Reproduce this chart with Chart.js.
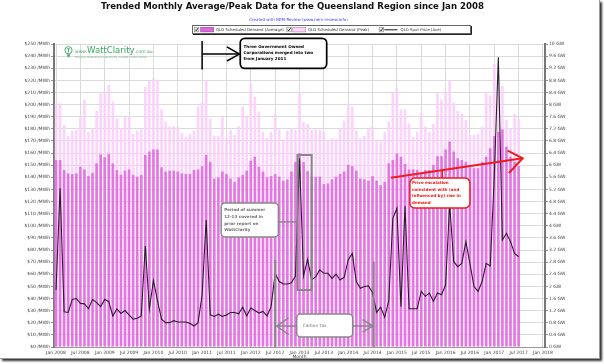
<!DOCTYPE html>
<html><head><meta charset="utf-8">
<script src="https://cdn.jsdelivr.net/npm/chart.js@4/dist/chart.umd.min.js"></script>
<style>
html,body{margin:0;padding:0;background:#fff;}
#frame{position:absolute;left:0;top:0;width:599px;height:358px;border-right:1px solid #999;border-bottom:1px solid #999;box-shadow:2px 2px 2px #333;background:#fff;}
#wrap{position:absolute;left:0;top:0;width:604px;height:364px;}
</style></head><body>
<div id="frame"></div>
<div id="wrap"><canvas id="c" width="604" height="364"></canvas></div>
<script>
const FONT = "'DejaVu Sans', Verdana, sans-serif";
const chartTitle = 'Trended Monthly Average/Peak Data for the Queensland Region since Jan 2008';
const chartSubtitle = 'Created with NEM-Review (www.nem-review.info)';
const seriesNames = ['QLD Scheduled Demand (Average)', 'QLD Scheduled Demand (Peak)', 'QLD Spot Price (Ave)'];

const monthNames = ['Jan','Feb','Mar','Apr','May','Jun','Jul','Aug','Sep','Oct','Nov','Dec'];
const categories = [];
for (let y = 2008; y <= 2018; y++) {
  for (let m = 0; m < 12; m++) {
    if (y === 2018 && m > 0) break;
    categories.push(monthNames[m] + ' ' + y);
  }
}
const xTickLabels = ['Jan 2008','Jul 2008','Jan 2009','Jul 2009','Jan 2010','Jul 2010','Jan 2011','Jul 2011',
  'Jan 2012','Jul 2012','Jan 2013','Jul 2013','Jan 2014','Jul 2014','Jan 2015','Jul 2015','Jan 2016','Jul 2016',
  'Jan 2017','Jul 2017','Jan 2018'];

// GW, Jan 2008 .. Jul 2017
const avgDemandGW = [
  6.17, 6.17, 5.84, 5.73, 5.71, 5.73, 5.95, 5.86, 5.64, 5.75, 6.06, 6.36,
  6.26, 6.37, 6.06, 5.84, 5.68, 5.82, 5.86, 5.68, 5.62, 5.68, 6.34, 6.45,
  6.52, 6.52, 5.93, 5.79, 5.82, 5.82, 5.79, 5.73, 5.71, 5.71, 5.84, 5.86,
  5.97, 6.34, 6.11, 5.56, 5.60, 5.79, 5.71, 5.56, 5.45, 5.60, 5.68, 5.82,
  6.15, 6.28, 5.95, 5.79, 5.60, 5.64, 5.71, 5.62, 5.49, 5.53, 5.79, 6.11,
  6.40, 6.10, 5.80, 5.62, 5.62, 5.62, 5.38, 5.40, 5.53, 5.62, 5.71, 5.79,
  6.01, 5.97, 5.82, 5.56, 5.53, 5.49, 5.64, 5.49, 5.34, 5.45, 6.06, 6.17,
  6.39, 6.28, 6.04, 5.86, 5.86, 5.84, 5.75, 5.84, 5.84, 6.01, 6.30, 6.30,
  6.52, 6.78, 6.45, 6.23, 6.17, 6.11, 5.93, 5.90, 5.90, 6.11, 6.28, 6.56,
  6.96, 7.10, 7.18, 6.61, 6.28, 6.11, 5.97
];
const peakDemandGW = [
  8.04, 8.04, 7.33, 6.96, 7.14, 7.16, 7.60, 8.17, 7.10, 7.21, 7.80, 8.37,
  8.42, 8.65, 8.10, 7.54, 7.21, 7.62, 7.62, 7.03, 7.14, 7.18, 8.59, 8.79,
  8.87, 8.81, 7.84, 7.43, 7.27, 7.29, 7.27, 7.07, 6.92, 7.03, 7.14, 7.93,
  8.06, 8.81, 7.54, 6.96, 6.96, 7.62, 6.92, 7.16, 7.00, 7.29, 7.93, 7.60,
  8.68, 8.26, 7.77, 7.10, 6.89, 7.10, 7.69, 7.18, 6.81, 7.14, 7.21, 7.16,
  8.42, 7.43, 7.36, 7.16, 7.18, 7.16, 7.10, 6.83, 6.89, 6.86, 7.21, 7.47,
  8.04, 7.93, 7.14, 6.89, 6.96, 7.21, 7.27, 6.83, 6.78, 7.10, 7.43, 8.39,
  8.54, 7.84, 7.84, 7.38, 6.92, 7.10, 7.71, 7.27, 7.10, 7.36, 8.37, 8.17,
  8.42, 8.79, 8.06, 7.80, 7.69, 7.49, 7.00, 7.00, 7.03, 7.27, 8.37, 8.31,
  9.34, 8.87, 8.61, 7.49, 7.21, 7.69, 7.51
];
// $/MWh
const spotPrice = [
  47, 131, 29, 28.5, 39.3, 40, 36, 35.6, 31.5, 39.3, 36.6, 33.3,
  39.3, 37.4, 25.6, 31.5, 27.7, 30.1, 26.5, 22.9, 23.7, 25.6, 83.3, 31.5,
  54.7, 38.2, 22.9, 20.1, 20.1, 21.7, 20.6, 20.6, 20.6, 19.5, 17.3, 20.1,
  42.9, 104.8, 26.5, 25.2, 27.1, 25.2, 26.5, 28.5, 28.5, 27.4, 32.8, 25.6,
  32.2, 30.1, 28, 29.3, 25.6, 33.3, 60.8, 54, 52, 52, 53, 58.5,
  155.7, 58.6, 72.3, 55.3, 58.1, 63.6, 60.8, 60.8, 56.6, 60.2, 55.3, 57.5,
  71.8, 77.2, 54, 48.5, 49.9, 50.4, 44.9, 28.5, 32.8, 24.5, 38.2, 106.2,
  114.4, 33.3, 116.3, 31.5, 31.5, 31.5, 45.9, 41.8, 44.5, 37.7, 44.5, 43.1,
  51.3, 118, 70.4, 66.3, 69, 86.9, 69, 49.9, 45.9, 54, 69, 66.8,
  140, 239, 88.3, 93.8, 86.9, 77.2, 74.5
];

const AVG_COL = 'rgba(228,112,228,0.95)';
const PEAK_COL = 'rgba(251,205,251,0.88)';
const LINE_COL = '#2a1d2a';

function rr(ctx, x, y, w, h, r) {
  ctx.beginPath();
  ctx.moveTo(x + r, y);
  ctx.arcTo(x + w, y, x + w, y + h, r);
  ctx.arcTo(x + w, y + h, x, y + h, r);
  ctx.arcTo(x, y + h, x, y, r);
  ctx.arcTo(x, y, x + w, y, r);
  ctx.closePath();
}
function line(ctx, pts) {
  ctx.beginPath();
  ctx.moveTo(pts[0][0], pts[0][1]);
  for (let k = 1; k < pts.length; k++) ctx.lineTo(pts[k][0], pts[k][1]);
  ctx.stroke();
}
function check(ctx, x, y) {
  ctx.save();
  ctx.strokeStyle = '#888'; ctx.lineWidth = 0.6;
  ctx.strokeRect(x, y, 4.5, 4.5);
  ctx.strokeStyle = '#000'; ctx.lineWidth = 0.9;
  line(ctx, [[x + 0.9, y + 2.3], [x + 1.9, y + 3.5], [x + 3.8, y + 0.8]]);
  ctx.restore();
}

const decor = {
  id: 'decor',
  afterDraw(chart) {
    const ctx = chart.ctx;
    const xs = chart.scales.x, ys = chart.scales.y;
    const X = i => xs.getPixelForValue(i);
    const Y = v => ys.getPixelForValue(v);
    const ca = chart.chartArea;
    ctx.save();

    // Title
    ctx.fillStyle = '#111';
    ctx.textAlign = 'center'; ctx.textBaseline = 'alphabetic';
    ctx.font = 'bold 10px ' + FONT;
    const w10 = ctx.measureText(chartTitle).width;
    const ts = 10 * 383 / w10;
    ctx.font = 'bold ' + ts.toFixed(2) + 'px ' + FONT;
    ctx.fillText(chartTitle, 292.5, 9.3);
    ctx.font = '4px ' + FONT;
    ctx.fillStyle = '#3a3aff';
    ctx.fillText(chartSubtitle, 298.5, 20.6);

    // Legend
    ctx.fillStyle = '#fff';
    ctx.fillRect(192.5, 25.5, 278, 8);
    ctx.strokeStyle = '#666'; ctx.lineWidth = 1;
    ctx.strokeRect(192.5, 25.5, 278, 8);
    ctx.strokeStyle = '#222';
    line(ctx, [[193, 34.5], [471.5, 34.5], [471.5, 26]]);
    check(ctx, 194.3, 27.3);
    check(ctx, 286.8, 27.3);
    check(ctx, 379.2, 27.3);
    ctx.fillStyle = '#dd66dd'; ctx.fillRect(200.7, 27.3, 13, 4.6);
    ctx.strokeStyle = '#a040a0'; ctx.lineWidth = 0.6; ctx.strokeRect(200.7, 27.3, 13, 4.6);
    ctx.fillStyle = '#fbd6fb'; ctx.fillRect(292.7, 27.3, 13, 4.6);
    ctx.strokeStyle = '#b080b0'; ctx.strokeRect(292.7, 27.3, 13, 4.6);
    ctx.strokeStyle = '#000'; ctx.lineWidth = 0.9;
    line(ctx, [[384.4, 29.8], [397.5, 29.8]]);
    ctx.fillStyle = '#333'; ctx.textAlign = 'left';
    ctx.font = '3.9px ' + FONT;
    ctx.fillText(seriesNames[0], 216, 31.3);
    ctx.fillText(seriesNames[1], 308, 31.3);
    ctx.fillText(seriesNames[2], 400.6, 31.3);

    // Logo
    const lx = ca.left, ly = ca.top;
    ctx.strokeStyle = '#3aa860'; ctx.lineWidth = 0.9;
    ctx.beginPath(); ctx.arc(lx + 14.5, ly + 6.2, 3.6, 0, Math.PI * 2); ctx.stroke();
    line(ctx, [[lx + 14.5, ly + 4], [lx + 14.5, ly + 8.5]]);
    line(ctx, [[lx + 13, ly + 5.5], [lx + 14.5, ly + 4], [lx + 16, ly + 5.5]]);
    ctx.fillStyle = '#3aa860';
    ctx.fillRect(lx + 13, ly + 10.3, 3, 1.5);
    ctx.fillRect(lx + 13.4, ly + 12.2, 2.2, 1);
    ctx.font = '4.5px ' + FONT;
    ctx.fillText('www.', lx + 21, ly + 9);
    let wx = lx + 21 + ctx.measureText('www.').width;
    ctx.font = '8.5px ' + FONT;
    ctx.fillText('WattClarity', wx, ly + 9);
    wx += ctx.measureText('WattClarity').width;
    ctx.font = '4.5px ' + FONT;
    ctx.fillText('.com.au', wx, ly + 9);
    ctx.fillStyle = '#7cb88f';
    ctx.font = '2.9px ' + FONT;
    ctx.fillText("Helping Australia's electricity market make sense", lx + 21, ly + 14);

    // Three Government Owned Corporations
    ctx.strokeStyle = '#000'; ctx.lineWidth = 1.5;
    line(ctx, [[X(36), Y(252.5)], [X(36), Y(229)]]);
    line(ctx, [[X(36), Y(241.7)], [X(45.1), Y(241.7)]]);
    line(ctx, [[X(42.1), Y(247.7)], [X(45.2), Y(241.7)], [X(42.1), Y(236)]]);
    rr(ctx, X(45.4), Y(254.7), X(66.7) - X(45.4), Y(229.9) - Y(254.7), 4.5);
    ctx.fillStyle = '#fff'; ctx.fill(); ctx.lineWidth = 1.7; ctx.stroke();
    ctx.fillStyle = '#000'; ctx.font = 'bold 4.1px ' + FONT;
    ctx.textBaseline = 'middle';
    const bx = X(45.4) + 3.3, by = Y(254.7);
    ctx.fillText('Three Government Owned', bx, by + 9);
    ctx.fillText('Corporations merged into two', bx, by + 15);
    ctx.fillText('from January 2011', bx, by + 21);

    // Summer 12-13 box
    ctx.strokeStyle = '#888'; ctx.lineWidth = 2;
    ctx.strokeRect(X(59.5), Y(158.4), X(63) - X(59.5), Y(47) - Y(158.4));
    ctx.lineWidth = 1.5;
    line(ctx, [[X(54.8), Y(103.2)], [X(59.5), Y(103.2)]]);
    rr(ctx, X(40.7), Y(118.8), X(54.8) - X(40.7), Y(90.8) - Y(118.8), 4);
    ctx.fillStyle = '#fff'; ctx.fill(); ctx.stroke();
    ctx.fillStyle = '#6e6e6e'; ctx.font = 'bold 4.1px ' + FONT;
    const sx = X(40.7) + 3, sy = Y(118.8);
    ctx.fillText('Period of summer', sx, sy + 7.3);
    ctx.fillText('12-13 covered in', sx, sy + 14);
    ctx.fillText('prior report on', sx, sy + 20.5);
    ctx.fillText('WattClarity', sx, sy + 27);

    // Carbon tax
    ctx.strokeStyle = '#888'; ctx.lineWidth = 2;
    line(ctx, [[X(54), Y(71.8)], [X(54), Y(0)]]);
    line(ctx, [[X(78.3), Y(70.5)], [X(78.3), Y(0)]]);
    ctx.lineWidth = 1.5;
    line(ctx, [[X(59.3), Y(17.3)], [X(54.4), Y(17.3)]]);
    line(ctx, [[X(57.3), Y(24)], [X(54.4), Y(17.3)], [X(57.3), Y(10.2)]]);
    line(ctx, [[X(73.1), Y(17.3)], [X(78.1), Y(17.3)]]);
    line(ctx, [[X(75.5), Y(22.5)], [X(78.1), Y(17.3)], [X(75.5), Y(12.2)]]);
    rr(ctx, X(59.3), Y(27.2), X(73.1) - X(59.3), Y(8.3) - Y(27.2), 4);
    ctx.fillStyle = '#fff'; ctx.fill(); ctx.stroke();
    ctx.fillStyle = '#777'; ctx.font = '4.3px ' + FONT;
    ctx.fillText('Carbon Tax', X(59.3) + 6, Y(17.5));

    // Red arrow
    ctx.strokeStyle = '#ee1c1c'; ctx.lineWidth = 2;
    line(ctx, [[X(82.5), Y(139.7)], [X(115), Y(155.7)]]);
    line(ctx, [[X(111.3), Y(162)], [X(115), Y(155.7)], [X(111.6), Y(143.6)]]);
    ctx.lineWidth = 1.5;
    line(ctx, [[X(95.2), Y(145.8)], [X(95.2), Y(139.4)]]);
    rr(ctx, X(87.2), Y(139.4), X(102) - X(87.2), Y(114.7) - Y(139.4), 5);
    ctx.fillStyle = '#fff'; ctx.fill(); ctx.stroke();
    ctx.fillStyle = '#e81818'; ctx.font = 'bold 4.1px ' + FONT;
    const rx = X(87.2) + 2.2, ry = Y(139.4);
    ctx.fillText('Price escalation', rx, ry + 5);
    ctx.fillText('coincident with (and', rx, ry + 11.5);
    ctx.fillText('influenced by) rise in', rx, ry + 18);
    ctx.fillText('demand', rx, ry + 24.5);
    ctx.restore();
  }
};

const isMajor = idx => xTickLabels.includes(categories[idx]);

new Chart(document.getElementById('c'), {
  type: 'bar',
  data: {
    labels: categories,
    datasets: [
      { type: 'line', label: seriesNames[2], data: spotPrice, yAxisID: 'y', borderColor: LINE_COL,
        borderWidth: 1.1, pointRadius: 0, tension: 0, order: 0, fill: false },
      { label: seriesNames[0], data: avgDemandGW, yAxisID: 'y1', backgroundColor: AVG_COL,
        grouped: false, barPercentage: 0.64, categoryPercentage: 1, order: 1 },
      { label: seriesNames[1], data: peakDemandGW, yAxisID: 'y1', backgroundColor: PEAK_COL,
        grouped: false, barPercentage: 0.64, categoryPercentage: 1, order: 2 }
    ]
  },
  options: {
    responsive: false, animation: false, devicePixelRatio: 1,
    layout: { padding: { top: 44, left: 0, right: 0, bottom: 4 } },
    plugins: { legend: { display: false }, tooltip: { enabled: false }, title: { display: false } },
    scales: {
      x: {
        type: 'category', offset: true,
        grid: { offset: false, drawTicks: false,
          color: c => isMajor(c.index) ? '#dadada' : 'rgba(0,0,0,0)', lineWidth: 1 },
        border: { color: '#999', width: 1 },
        ticks: { autoSkip: false, maxRotation: 0, minRotation: 0, padding: 3, color: '#444',
          font: { size: 4.5, family: FONT },
          callback: (v, idx) => isMajor(idx) ? categories[idx] : '' },
        title: { display: true, text: 'Month', color: '#444', font: { size: 4.5, family: FONT }, padding: 0 },
        afterFit: s => { s.height = 13; }
      },
      y: {
        position: 'left', min: 0, max: 250,
        grid: { color: '#dadada', tickLength: 3, tickColor: '#999' },
        border: { color: '#777', width: 2 },
        ticks: { stepSize: 10, autoSkip: false, padding: 1, color: '#444', font: { size: 4.5, family: FONT },
          callback: v => '$' + v + ' /MWh' },
        afterFit: s => { s.width = 54; }
      },
      y1: {
        position: 'right', min: 0, max: 10,
        grid: { drawOnChartArea: false, tickLength: 3, tickColor: '#999' },
        border: { color: '#777', width: 2 },
        ticks: { stepSize: 0.4, autoSkip: false, padding: 1, color: '#444', font: { size: 4.5, family: FONT },
          callback: v => (Math.round(v * 10) / 10) + ' GW' },
        afterFit: s => { s.width = 59; }
      }
    }
  },
  plugins: [decor]
});
</script>
</body></html>
